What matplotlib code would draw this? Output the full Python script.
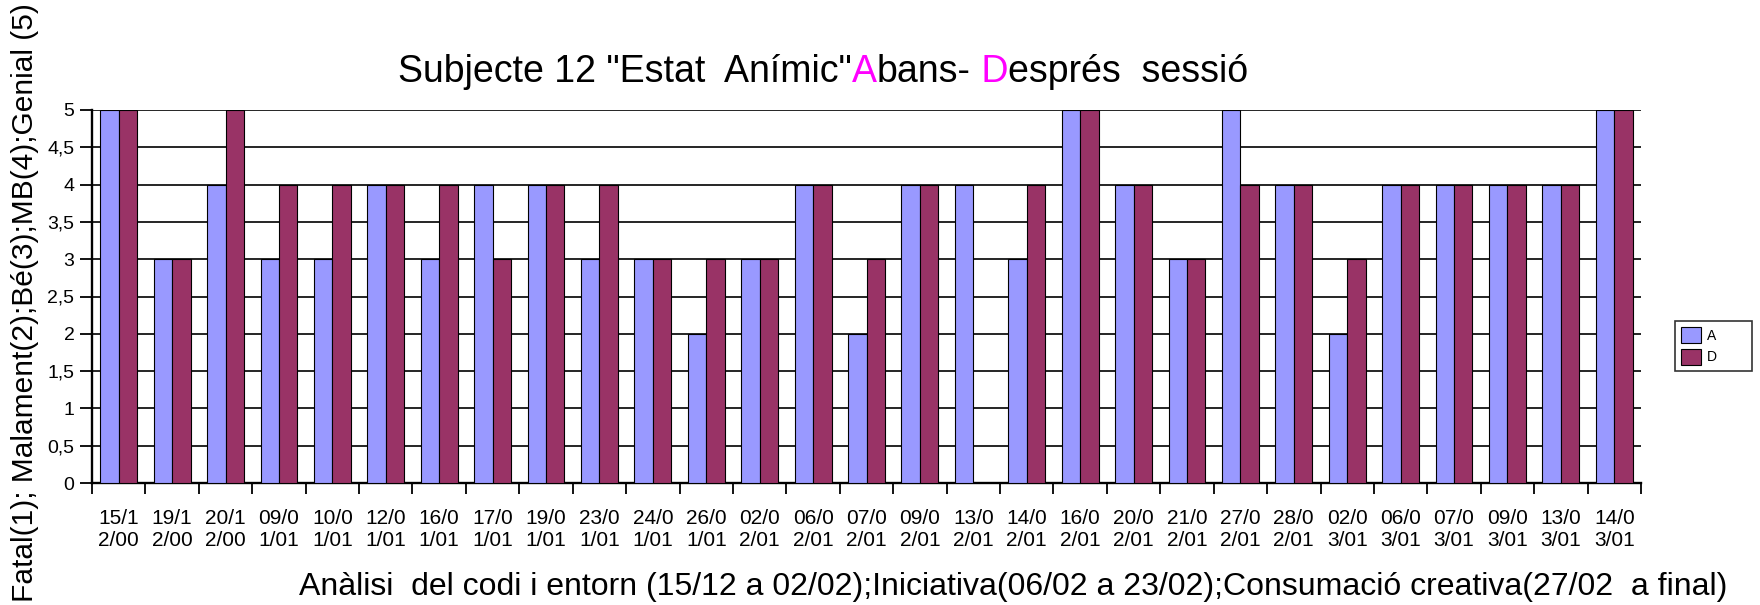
import numpy as np
import matplotlib
matplotlib.use("Agg")
import matplotlib.pyplot as plt
from matplotlib import transforms

plt.rcParams['font.family'] = ['Liberation Sans', 'DejaVu Sans']

dates = ['15/12/00', '19/12/00', '20/12/00', '09/01/01', '10/01/01', '12/01/01',
         '16/01/01', '17/01/01', '19/01/01', '23/01/01', '24/01/01', '26/01/01',
         '02/02/01', '06/02/01', '07/02/01', '09/02/01', '13/02/01', '14/02/01',
         '16/02/01', '20/02/01', '21/02/01', '27/02/01', '28/02/01', '02/03/01',
         '06/03/01', '07/03/01', '09/03/01', '13/03/01', '14/03/01']
abans = [5, 3, 4, 3, 3, 4, 3, 4, 4, 3, 3, 2, 3, 4, 2, 4, 4, 3, 5, 4, 3, 5, 4, 2, 4, 4, 4, 4, 5]
despres = [5, 3, 5, 4, 4, 4, 4, 3, 4, 4, 3, 3, 3, 4, 3, 4, 0, 4, 5, 4, 3, 4, 4, 3, 4, 4, 4, 4, 5]
yticks = [0, 0.5, 1, 1.5, 2, 2.5, 3, 3.5, 4, 4.5, 5]

W, H = 1760, 605
fig = plt.figure(figsize=(W / 100, H / 100), dpi=100)
ax = fig.add_axes([92 / W, 1 - 483 / H, (1641 - 92) / W, (483 - 110) / H])

x = np.arange(len(dates))
bw = 0.345
ax.bar(x - bw / 2, abans, bw, color='#9999FF', edgecolor='black', linewidth=0.8, label='A', zorder=3)
ax.bar(x + bw / 2, despres, bw, color='#993366', edgecolor='black', linewidth=0.8, label='D', zorder=3)

ax.set_xlim(-0.5, len(dates) - 0.5)
ax.set_ylim(0, 5)
ax.yaxis.grid(True, color='black', linewidth=1.2, zorder=0)
ax.set_axisbelow(True)

ax.tick_params(axis='x', which='major', length=8, width=1.3, direction='out', color='black')
ax.tick_params(axis='x', which='minor', length=0, pad=18.5, labelsize=15)
ax.tick_params(axis='y', length=8.6, width=1.3, direction='out', pad=4, labelsize=14)

ax.set_yticks(yticks)
ax.set_yticklabels([('%g' % v).replace('.', ',') for v in yticks])

# tick marks at category boundaries, labels at centres
ax.set_xticks(np.arange(len(dates) + 1) - 0.5)
ax.set_xticklabels([])
ax.set_xticks(x, minor=True)
ax.set_xticklabels([d[:4] + '\n' + d[4:] for d in dates], minor=True)
for lab in ax.get_xticklabels(minor=True):
    lab.set_linespacing(1.2)

for s in ['top', 'right']:
    ax.spines[s].set_visible(False)
ax.spines['left'].set_linewidth(1.7)
ax.spines['bottom'].set_linewidth(1.7)

# title with coloured initials
renderer = fig.canvas.get_renderer()
pieces = [('Subjecte 12 "Estat  Anímic"', 'black'), ('A', '#FF00FF'), ('bans-', 'black'),
          (' D', '#FF00FF'), ('esprés  sessió', 'black')]
tr = fig.transFigure
for s, c in pieces:
    t = fig.text(398 / W, 1 - 82 / H, s, color=c, fontsize=27, transform=tr, va='baseline')
    t.draw(renderer)
    ex = t.get_window_extent(renderer)
    tr = transforms.offset_copy(t.get_transform(), fig=fig, x=ex.width, units='dots')

fig.text(25 / W, 1 - 303 / H, 'Fatal(1); Malament(2);Bé(3);MB(4);Genial (5)', rotation=90,
         ha='center', va='center', fontsize=21.5)
fig.text(1013 / W, 1 - 587 / H,
         'Anàlisi  del codi i entorn (15/12 a 02/02);Iniciativa(06/02 a 23/02);Consumació creativa(27/02  a final)',
         ha='center', va='center', fontsize=23)

leg = fig.legend(loc='upper left', bbox_to_anchor=(1675 / W, 1 - 374 / H, 77 / W, 53 / H),
                 mode='expand', fontsize=10, frameon=True, fancybox=False, edgecolor='black',
                 handlelength=1.44, handleheight=1.4, handletextpad=0.4, borderpad=0.45,
                 labelspacing=0.4, borderaxespad=0)
leg.get_frame().set_linewidth(1.2)

fig.savefig('out.png', dpi=100)
